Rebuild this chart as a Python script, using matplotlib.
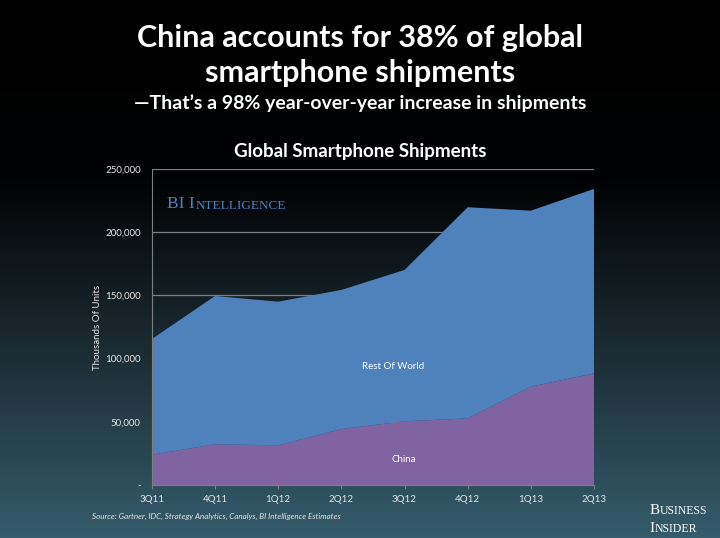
import numpy as np
import matplotlib.pyplot as plt
from matplotlib.colors import LinearSegmentedColormap

# data (thousands of units)
quarters = ['3Q11', '4Q11', '1Q12', '2Q12', '3Q12', '4Q12', '1Q13', '2Q13']
china = [24000, 32200, 31400, 44300, 50400, 52700, 77800, 88300]
total = [115500, 149500, 145000, 154300, 170100, 219700, 217000, 234200]
rest_of_world = [t - c for t, c in zip(total, china)]

plt.rcParams['font.family'] = ['Lato', 'DejaVu Sans']

fig = plt.figure(figsize=(7.2, 5.38), dpi=100)

# background gradient: black on top, teal at the bottom
bg = fig.add_axes([0, 0, 1, 1], zorder=-10)
bg.axis('off')
cmap = LinearSegmentedColormap.from_list('bg', [(0, '#000000'), (0.33, '#010203'),
                                                (0.65, '#1c2c33'), (1, '#345c6c')])
grad = np.linspace(0, 1, 256).reshape(-1, 1)
bg.imshow(grad, cmap=cmap, aspect='auto', extent=[0, 1, 0, 1], origin='upper')
bg.set_xlim(0, 1)
bg.set_ylim(0, 1)

ax = fig.add_axes([0.211, 0.0985, 0.614, 0.5875])
ax.patch.set_alpha(0)
x = np.arange(len(quarters))
ax.stackplot(x, china, rest_of_world, colors=['#8064a2', '#4f81bd'], zorder=2)
ax.set_xlim(0, len(quarters) - 1)
ax.set_ylim(0, 250000)
ax.set_yticks([0, 50000, 100000, 150000, 200000, 250000])
ax.set_yticklabels(['-', '50,000', '100,000', '150,000', '200,000', '250,000'])
ax.set_xticks(x)
ax.set_xticklabels(quarters)
ax.grid(axis='y', color='#808080', linewidth=0.9, zorder=1)
ax.set_axisbelow(True)
for s in ['top', 'right']:
    ax.spines[s].set_visible(False)
for s in ['left', 'bottom']:
    ax.spines[s].set_color('#808080')
ax.tick_params(axis='both', colors='#808080', labelcolor='#e6e6e6', labelsize=7, length=3)
ax.tick_params(axis='y', length=0, pad=8)
ax.tick_params(axis='x', pad=4)
ax.set_ylabel('Thousands Of Units', color='#e6e6e6', fontsize=7, labelpad=2)

ax.text(3.82, 94000, 'Rest Of World', color='white', fontsize=7, ha='center', va='center')
ax.text(3.98, 20000, 'China', color='white', fontsize=7, ha='center', va='center')

# BI Intelligence watermark in small caps
t1 = ax.text(0.035, 0.875, 'BI I', transform=ax.transAxes, color='#4f81bd',
             fontsize=12.5, family='Liberation Serif', va='baseline')
ax.annotate('NTELLIGENCE', xy=(1, 0), xycoords=t1, color='#4f81bd', fontsize=9.5,
            family='Liberation Serif', va='bottom', ha='left')

fig.text(0.5, 0.93, 'China accounts for 38% of global', color='white', fontsize=22,
         ha='center', va='center', weight='bold')
fig.text(0.5, 0.865, 'smartphone shipments', color='white', fontsize=22,
         ha='center', va='center', weight='bold')
fig.text(0.5, 0.808, '\u2014That\u2019s a 98% year-over-year increase in shipments', color='white',
         fontsize=14, ha='center', va='center', weight='bold')
fig.text(0.5, 0.718, 'Global Smartphone Shipments', color='white', fontsize=13.5,
         ha='center', va='center', weight='bold')

fig.text(0.128, 0.04, 'Source: Gartner, IDC, Strategy Analytics, Canalys, BI Intelligence Estimates',
         color='#e6e6e6', fontsize=5.8, style='italic', va='center')

# Business Insider logo
tb = fig.text(0.902, 0.045, 'B', color='white', fontsize=11, family='Liberation Serif', va='baseline')
fig.add_artist(plt.Annotation('USINESS', xy=(1, 0), xycoords=tb, color='white', fontsize=8.5,
                              family='Liberation Serif', va='bottom', ha='left',
                              annotation_clip=False))
ti = fig.text(0.902, 0.012, 'I', color='white', fontsize=11, family='Liberation Serif', va='baseline')
fig.add_artist(plt.Annotation('NSIDER', xy=(1, 0), xycoords=ti, color='white', fontsize=8.5,
                              family='Liberation Serif', va='bottom', ha='left',
                              annotation_clip=False))

fig.savefig('out.png', dpi=100)
